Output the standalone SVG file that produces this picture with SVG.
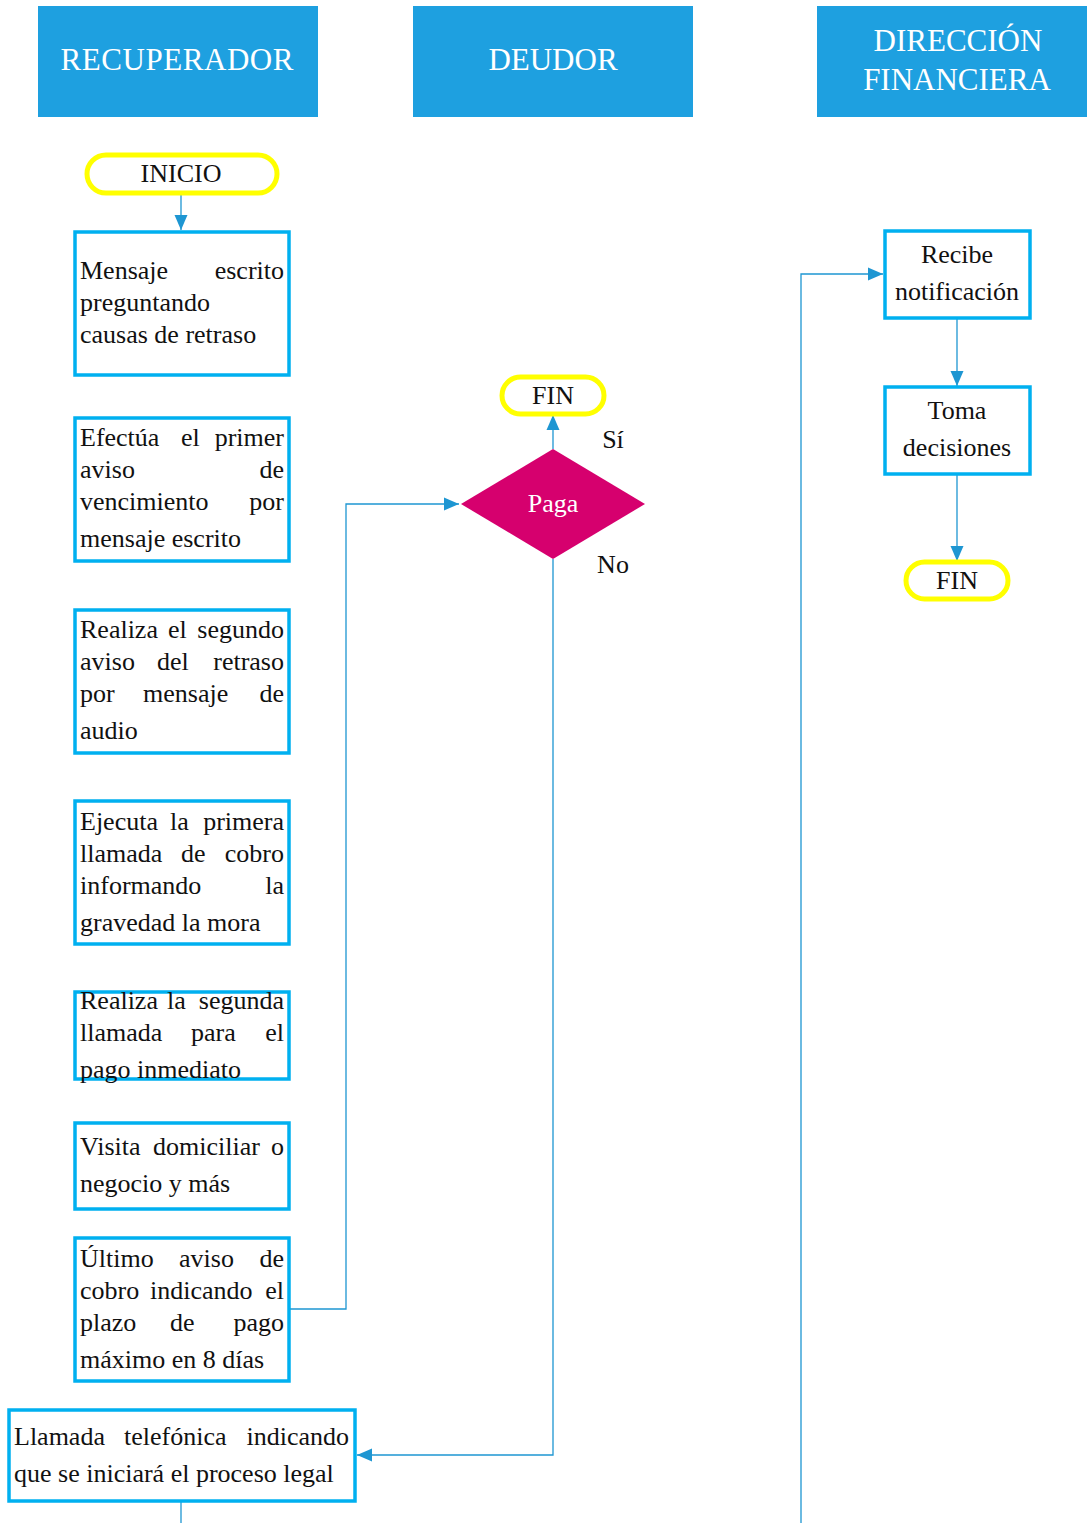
<svg xmlns="http://www.w3.org/2000/svg" width="1087" height="1523" viewBox="0 0 1087 1523">
  <style>
    .lane { fill: #1EA0E0; }
    .lane-t { font-family: "Liberation Serif", "Times New Roman", serif; font-size: 31px; fill: #ffffff; text-anchor: middle; }
    .box { fill: #ffffff; stroke: #00B0F0; stroke-width: 3.5; }
    .term { fill: #ffffff; stroke: #FFFF00; stroke-width: 5; }
    .t { font-family: "Liberation Serif", "Times New Roman", serif; font-size: 26px; fill: #111111; }
    .e { text-anchor: end; }
    .c { text-anchor: middle; }
    .w { fill: #ffffff; }
    .conn { fill: none; stroke: #1E96D2; stroke-width: 1.3; }
  </style>
  <defs>
    <marker id="arrow" markerUnits="userSpaceOnUse" markerWidth="16" markerHeight="16" viewBox="0 0 16 16" refX="15" refY="8" orient="auto">
      <path d="M0,1.5 L15,8 L0,14.5 Z" fill="#1E96D2"/>
    </marker>
  </defs>

  <rect width="1087" height="1523" fill="#ffffff"/>

  <!-- swimlane headers -->
  <g id="lane-recuperador">
    <rect class="lane" x="38" y="6" width="280" height="111"/>
    <text class="lane-t" x="177" y="70" textLength="233">RECUPERADOR</text>
  </g>
  <g id="lane-deudor">
    <rect class="lane" x="413" y="6" width="280" height="111"/>
    <text class="lane-t" x="553" y="70">DEUDOR</text>
  </g>
  <g id="lane-direccion">
    <rect class="lane" x="817" y="6" width="270" height="111"/>
    <text class="lane-t" x="958" y="51">DIRECCIÓN</text>
    <text class="lane-t" x="957" y="90">FINANCIERA</text>
  </g>

  <!-- connectors -->
  <g id="connectors">
    <line class="conn" x1="181" y1="193" x2="181" y2="230" marker-end="url(#arrow)"/>
    <polyline class="conn" points="289,1309 346,1309 346,504 459,504" marker-end="url(#arrow)"/>
    <line class="conn" x1="553" y1="449" x2="553" y2="415" marker-end="url(#arrow)"/>
    <polyline class="conn" points="553,559 553,1455 357,1455" marker-end="url(#arrow)"/>
    <line class="conn" x1="181" y1="1502" x2="181" y2="1523"/>
    <polyline class="conn" points="801,1523 801,274 883,274" marker-end="url(#arrow)"/>
    <line class="conn" x1="957" y1="319" x2="957" y2="386" marker-end="url(#arrow)"/>
    <line class="conn" x1="957" y1="475" x2="957" y2="561" marker-end="url(#arrow)"/>
  </g>

  <!-- recuperador column -->
  <g id="inicio">
    <rect class="term" x="87" y="155" width="190" height="38" rx="19"/>
    <text class="t c" x="181" y="182">INICIO</text>
  </g>

  <g id="mensaje-escrito">
    <rect class="box" x="75" y="232" width="214" height="143"/>
    <text class="t" x="80" y="279">Mensaje</text>
    <text class="t e" x="284" y="279">escrito</text>
    <text class="t" x="80" y="311">preguntando</text>
    <text class="t" x="80" y="343">causas de retraso</text>
  </g>

  <g id="primer-aviso">
    <rect class="box" x="75" y="418" width="214" height="143"/>
    <text class="t" x="80" y="446">Efectúa</text>
    <text class="t" x="181" y="446">el</text>
    <text class="t e" x="284" y="446">primer</text>
    <text class="t" x="80" y="478">aviso</text>
    <text class="t e" x="284" y="478">de</text>
    <text class="t" x="80" y="510">vencimiento</text>
    <text class="t e" x="284" y="510">por</text>
    <text class="t" x="80" y="547">mensaje escrito</text>
  </g>

  <g id="segundo-aviso">
    <rect class="box" x="75" y="610" width="214" height="143"/>
    <text class="t" x="80" y="638">Realiza</text>
    <text class="t" x="168" y="638">el</text>
    <text class="t e" x="284" y="638">segundo</text>
    <text class="t" x="80" y="670">aviso</text>
    <text class="t" x="157" y="670">del</text>
    <text class="t e" x="284" y="670">retraso</text>
    <text class="t" x="80" y="702">por</text>
    <text class="t" x="143" y="702">mensaje</text>
    <text class="t e" x="284" y="702">de</text>
    <text class="t" x="80" y="739">audio</text>
  </g>

  <g id="primera-llamada">
    <rect class="box" x="75" y="801" width="214" height="143"/>
    <text class="t" x="80" y="830">Ejecuta</text>
    <text class="t" x="170" y="830">la</text>
    <text class="t e" x="284" y="830">primera</text>
    <text class="t" x="80" y="862">llamada</text>
    <text class="t" x="181" y="862">de</text>
    <text class="t e" x="284" y="862">cobro</text>
    <text class="t" x="80" y="894">informando</text>
    <text class="t e" x="284" y="894">la</text>
    <text class="t" x="80" y="931">gravedad la mora</text>
  </g>

  <g id="segunda-llamada">
    <rect class="box" x="75" y="992" width="214" height="87"/>
    <text class="t" x="80" y="1009">Realiza</text>
    <text class="t" x="167" y="1009">la</text>
    <text class="t e" x="284" y="1009">segunda</text>
    <text class="t" x="80" y="1041">llamada</text>
    <text class="t" x="191" y="1041">para</text>
    <text class="t e" x="284" y="1041">el</text>
    <text class="t" x="80" y="1078">pago inmediato</text>
  </g>

  <g id="visita">
    <rect class="box" x="75" y="1123" width="214" height="86"/>
    <text class="t" x="80" y="1155">Visita</text>
    <text class="t" x="153" y="1155">domiciliar</text>
    <text class="t e" x="284" y="1155">o</text>
    <text class="t" x="80" y="1192">negocio y más</text>
  </g>

  <g id="ultimo-aviso">
    <rect class="box" x="75" y="1238" width="214" height="143"/>
    <text class="t" x="80" y="1267">Último</text>
    <text class="t" x="179" y="1267">aviso</text>
    <text class="t e" x="284" y="1267">de</text>
    <text class="t" x="80" y="1299">cobro</text>
    <text class="t" x="150" y="1299">indicando</text>
    <text class="t e" x="284" y="1299">el</text>
    <text class="t" x="80" y="1331">plazo</text>
    <text class="t" x="170" y="1331">de</text>
    <text class="t e" x="284" y="1331">pago</text>
    <text class="t" x="80" y="1368">máximo en 8 días</text>
  </g>

  <g id="proceso-legal">
    <rect class="box" x="9" y="1410" width="346" height="91"/>
    <text class="t" x="14" y="1445">Llamada</text>
    <text class="t" x="124" y="1445">telefónica</text>
    <text class="t e" x="349" y="1445">indicando</text>
    <text class="t" x="14" y="1482">que se iniciará el proceso legal</text>
  </g>

  <!-- deudor column -->
  <g id="fin-deudor">
    <rect class="term" x="502" y="377" width="102" height="37" rx="18.5"/>
    <text class="t c" x="553" y="404">FIN</text>
  </g>

  <g id="paga">
    <polygon points="553,449 645,504 553,559 461,504" fill="#D6006E"/>
    <text class="t c w" x="553" y="512">Paga</text>
    <text class="t c" x="613" y="448">Sí</text>
    <text class="t c" x="613" y="573">No</text>
  </g>

  <!-- direccion financiera column -->
  <g id="recibe-notificacion">
    <rect class="box" x="885" y="231" width="145" height="87"/>
    <text class="t c" x="957" y="263">Recibe</text>
    <text class="t c" x="957" y="300">notificación</text>
  </g>

  <g id="toma-decisiones">
    <rect class="box" x="885" y="387" width="145" height="87"/>
    <text class="t c" x="957" y="419">Toma</text>
    <text class="t c" x="957" y="456">decisiones</text>
  </g>

  <g id="fin-direccion">
    <rect class="term" x="906" y="562" width="102" height="37" rx="18.5"/>
    <text class="t c" x="957" y="589">FIN</text>
  </g>
</svg>
